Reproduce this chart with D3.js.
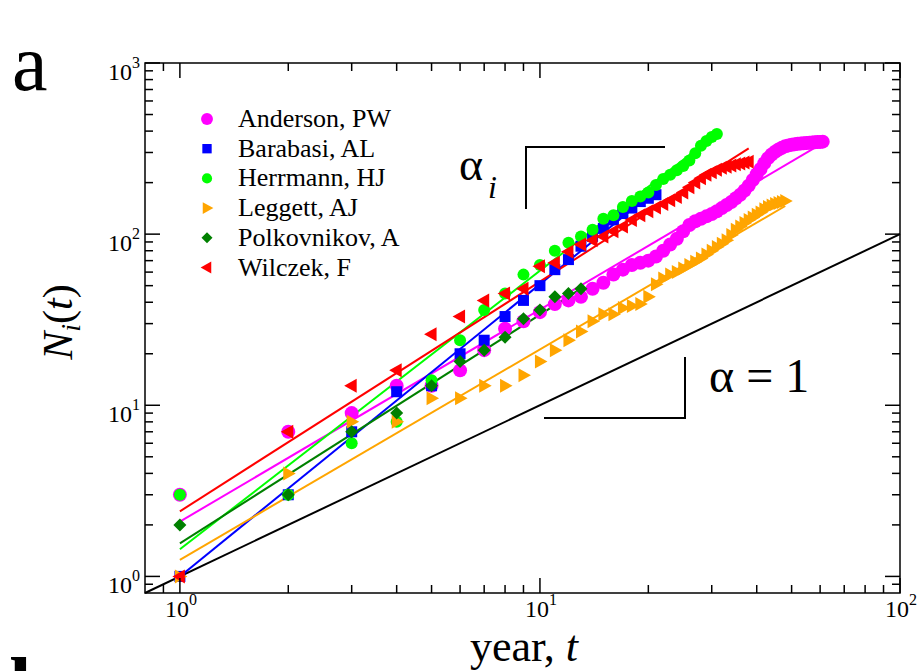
<!DOCTYPE html>
<html>
<head>
<meta charset="utf-8">
<script src="https://cdn.jsdelivr.net/npm/d3@7"></script>
<style>
body { margin: 0; background: #fff; }
svg, svg text { font-family: "Liberation Serif", "Times New Roman", Times, serif; }
</style>
</head>
<body>
<div id="chart"></div>
<script>
var width = 920,
    height = 671;

// cumulative counts N_i(t), one value per year t = 1, 2, 3, ...
var anderson = [3, 7, 9, 13, 13, 16, 21, 28, 31, 35, 39, 41, 43, 48, 52, 58, 62, 66, 68, 70,
    74, 80, 87, 94, 104, 113, 119, 123, 127, 131, 136, 142, 148, 154, 162, 170, 180, 192, 207, 224,
    240, 260, 278, 292, 303, 312, 320, 326, 330, 333, 335, 337, 338, 340, 341, 342, 343, 344, 345, 346, 347];
var barabasi = [1, 3, 7, 12, 13, 20, 24, 33, 41, 50, 62, 71, 85, 97, 108, 121, 132, 142, 155, 162, 170];
var herrmann = [3, 3, 6, 8, 14, 24, 36, 45, 58, 66, 80, 89, 97, 106, 123, 129, 144, 156, 166, 175,
    194, 210, 222, 236, 250, 269, 297, 328, 350, 370, 385];
var leggett = [1, 4, 8, 8, 11, 11, 13, 13, 15, 18, 21, 24, 27, 31, 34, 34, 37, 38, 39, 43,
    51, 55, 58, 60, 63, 66, 69, 72, 76, 80, 84, 88, 92, 99, 106, 111, 116, 121, 125, 130,
    134, 140, 144, 147, 150, 152, 154, 156];
var polkovnikov = [2, 3, 7, 9, 13, 18, 21, 25, 32, 36, 43, 45, 48];
var wilczek = [1, 7, 13, 16, 26, 33, 41, 45, 48, 65, 68, 79, 87, 92, 97, 104, 111, 121, 129, 136,
    143, 150, 158, 165, 175, 188, 200, 212, 222, 230, 238, 244, 248, 252, 256, 259, 262, 265];

var names = ['Anderson, PW', 'Barabasi, AL', 'Herrmann, HJ', 'Leggett, AJ', 'Polkovnikov, A', 'Wilczek, F'];
var colors = ['#ff00ff', '#0000ff', '#00ff00', '#ffa500', '#008000', '#ff0000'];
var shapes = ['bigcircle', 'square', 'circle', 'right', 'diamond', 'left'];

// power-law fits, value at t = 1 and at the last year
var fitStart = [2.09, 1.0, 1.44, 1.25, 1.56, 2.4];
var fitEnd = [340, 181, 386, 146, 48, 317];

// alpha = 1 reference line
var refLine = [[0.8, 0.8], [100, 100]];

var xMajor = [1, 10, 100],
    yMajor = [1, 10, 100, 1000];
var xMinor = [0.9, 2, 3, 4, 5, 6, 7, 8, 9, 20, 30, 40, 50, 60, 70, 80, 90],
    yMinor = [0.9, 2, 3, 4, 5, 6, 7, 8, 9, 20, 30, 40, 50, 60, 70, 80, 90, 200, 300, 400, 500, 600, 700, 800, 900];

var series = [anderson, barabasi, herrmann, leggett, polkovnikov, wilczek];

var svg = d3.select('#chart')
    .append('svg')
    .attr('width', width)
    .attr('height', height)
    .attr('font-family', '"Liberation Serif", "Times New Roman", serif');

var x = d3.scaleLog().domain([0.8, 100]).range([145, 900]);
var y = d3.scaleLog().domain([0.8, 1000]).range([593, 63]);

var line = d3.line()
    .x(d => x(d[0]))
    .y(d => y(d[1]));

function marker(shape) {
    if (shape == 'bigcircle') return 'M7,0A7,7 0 1,1 -7,0A7,7 0 1,1 7,0Z';
    if (shape == 'circle') return 'M6,0A6,6 0 1,1 -6,0A6,6 0 1,1 6,0Z';
    if (shape == 'square') return 'M-5.5,-5.5H5.5V5.5H-5.5Z';
    if (shape == 'diamond') return 'M0,-6.5L6.5,0L0,6.5L-6.5,0Z';
    if (shape == 'right') return 'M-5,-7L7.5,0L-5,7Z';
    return 'M5,-7L-7.5,0L5,7Z';
}

var plot = svg.append('g');

// reference line
plot.append('path')
    .attr('d', line(refLine))
    .attr('fill', 'none')
    .attr('stroke', '#000')
    .attr('stroke-width', 2);

// fit lines
series.forEach((s, i) => {
    plot.append('path')
        .attr('d', line([[1, fitStart[i]], [s.length, fitEnd[i]]]))
        .attr('fill', 'none')
        .attr('stroke', colors[i])
        .attr('stroke-width', 2);
});

// data points
series.forEach((s, i) => {
    plot.selectAll('.pt' + i)
        .data(s.map((v, j) => [j + 1, v]))
        .enter()
        .append('path')
        .attr('class', 'pt' + i)
        .attr('d', marker(shapes[i]))
        .attr('fill', colors[i])
        .attr('transform', d => 'translate(' + x(d[0]) + ',' + y(d[1]) + ')');
});

// frame
svg.append('rect')
    .attr('x', 145).attr('y', 63)
    .attr('width', 755).attr('height', 530)
    .attr('fill', 'none')
    .attr('stroke', '#000')
    .attr('stroke-width', 1.5);

var ticks = svg.append('g').attr('stroke', '#000').attr('stroke-width', 1.5);

function xTicks(vals, len) {
    vals.forEach(v => {
        ticks.append('line').attr('x1', x(v)).attr('x2', x(v)).attr('y1', 593).attr('y2', 593 - len);
        ticks.append('line').attr('x1', x(v)).attr('x2', x(v)).attr('y1', 63).attr('y2', 63 + len);
    });
}
function yTicks(vals, len) {
    vals.forEach(v => {
        ticks.append('line').attr('y1', y(v)).attr('y2', y(v)).attr('x1', 145).attr('x2', 145 + len);
        ticks.append('line').attr('y1', y(v)).attr('y2', y(v)).attr('x1', 900).attr('x2', 900 - len);
    });
}
xTicks(xMajor, 15);
xTicks(xMinor, 8);
yTicks(yMajor, 15);
yTicks(yMinor, 8);

function powLabel(t, v) {
    t.append('tspan').text('10');
    t.append('tspan').attr('dy', -12).attr('font-size', 16).text(Math.round(Math.log10(v)));
}

xMajor.forEach(v => {
    var t = svg.append('text')
        .attr('x', x(v) + 1).attr('y', 617)
        .attr('text-anchor', 'middle')
        .attr('font-size', 24);
    powLabel(t, v);
});
yMajor.forEach(v => {
    var t = svg.append('text')
        .attr('x', 140).attr('y', y(v) + 17)
        .attr('text-anchor', 'end')
        .attr('font-size', 24);
    powLabel(t, v);
});

// axis titles
var xt = svg.append('text')
    .attr('x', 524).attr('y', 661)
    .attr('text-anchor', 'middle')
    .attr('font-size', 44);
xt.append('tspan').text('year, ');
xt.append('tspan').attr('font-style', 'italic').text('t');

var yt = svg.append('text')
    .attr('transform', 'translate(72,322) rotate(-90)')
    .attr('text-anchor', 'middle')
    .attr('font-size', 42);
yt.append('tspan').attr('font-style', 'italic').text('N');
yt.append('tspan').attr('font-style', 'italic').attr('font-size', 28).attr('dy', 8).text('i');
yt.append('tspan').attr('dy', -8).text('(');
yt.append('tspan').attr('font-style', 'italic').text('t');
yt.append('tspan').text(')');

// panel letters
svg.append('text').attr('x', 12).attr('y', 90).attr('font-size', 80).text('a');
svg.append('text').attr('x', 10).attr('y', 713).attr('font-size', 80).attr('font-weight', 'bold').text('b');

// legend
names.forEach((n, i) => {
    var ly = 119 + i * 29.7;
    svg.append('path')
        .attr('d', marker(shapes[i]))
        .attr('fill', colors[i])
        .attr('transform', 'translate(207,' + ly + ') scale(0.85)');
    svg.append('text')
        .attr('x', 238).attr('y', ly + 8)
        .attr('font-size', 26)
        .text(n);
});

// slope annotations
var ann = svg.append('g').attr('stroke', '#000').attr('stroke-width', 2).attr('fill', 'none');
ann.append('path').attr('d', 'M526,209V147H665');
ann.append('path').attr('d', 'M544,418H685V357');

var ai = svg.append('text').attr('x', 459).attr('y', 180).attr('font-size', 46);
ai.append('tspan').text('α');
ai.append('tspan').attr('font-style', 'italic').attr('font-size', 32).attr('dy', 18).attr('dx', 5).text('i');

svg.append('text').attr('x', 709).attr('y', 392).attr('font-size', 48).text('α = 1');
</script>
</body>
</html>
